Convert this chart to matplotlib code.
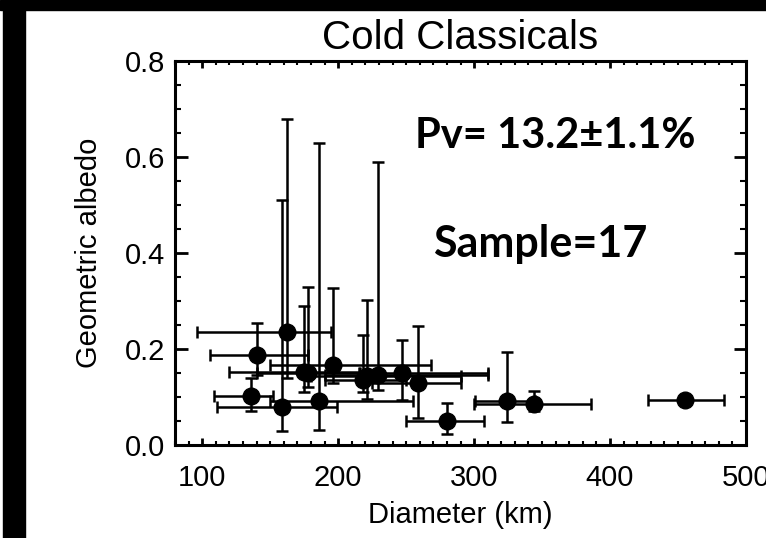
"""Cold classicals: geometric albedo vs diameter"""

import numpy as np
import matplotlib.pyplot as plt
from matplotlib.patches import Rectangle
from matplotlib.ticker import MultipleLocator

# values
diam = [162, 140, 136, 159, 186, 175, 178, 196, 221, 218, 229, 247, 259, 280, 324, 344, 455]
diam_lo = [96, 106, 109, 111, 150, 120, 140, 150, 180, 190, 190, 215, 225, 250, 301, 300, 428]
diam_hi = [195, 178, 152, 199, 255, 230, 216, 268, 290, 250, 310, 310, 290, 307, 345, 386, 484]
albedo = [0.235, 0.188, 0.103, 0.080, 0.091, 0.153, 0.150, 0.167, 0.143, 0.135, 0.146,
          0.150, 0.129, 0.051, 0.091, 0.085, 0.094]
alb_lo = [0.14, 0.145, 0.07, 0.03, 0.032, 0.11, 0.12, 0.13, 0.096, 0.11, 0.115,
          0.094, 0.056, 0.022, 0.047, 0.07, 0.085]
alb_hi = [0.68, 0.255, 0.14, 0.51, 0.63, 0.289, 0.33, 0.327, 0.303, 0.23, 0.59,
          0.219, 0.247, 0.087, 0.193, 0.112, 0.103]

title = "Cold Classicals"
xlabel = "Diameter (km)"
ylabel = "Geometric albedo"
note_pv = "Pv= 13.2\u00b11.1%"
note_n = "Sample=17"


def main():
    plt.rcParams['font.family'] = ['Liberation Sans', 'DejaVu Sans']
    fig = plt.figure(figsize=(7.66, 5.38), dpi=100)
    ax = fig.add_axes([0.2285, 0.1729, 0.7454, 0.7137])

    d = np.array(diam)
    a = np.array(albedo)
    xerr = [d - np.array(diam_lo), np.array(diam_hi) - d]
    yerr = [a - np.array(alb_lo), np.array(alb_hi) - a]
    ax.errorbar(d, a, xerr=xerr, yerr=yerr, fmt='o', color='black', ms=12,
                elinewidth=1.8, capsize=4, capthick=1.8)

    ax.set_xlim(80, 500)
    ax.set_ylim(0, 0.8)
    ax.xaxis.set_major_locator(MultipleLocator(100))
    ax.xaxis.set_minor_locator(MultipleLocator(10))
    ax.yaxis.set_major_locator(MultipleLocator(0.2))
    ax.yaxis.set_minor_locator(MultipleLocator(0.05))
    ax.xaxis.set_major_formatter(plt.FuncFormatter(lambda v, p: "%d" % v))
    ax.yaxis.set_major_formatter(plt.FuncFormatter(lambda v, p: "%.1f" % v))
    ax.tick_params(axis='x', which='major', direction='in', length=5, width=2,
                   top=True, labelsize=21, pad=14)
    ax.tick_params(axis='x', which='minor', direction='in', length=3, width=1.5, top=True)
    ax.tick_params(axis='y', which='major', direction='in', length=9, width=2,
                   right=True, labelsize=21, pad=7)
    ax.tick_params(axis='y', which='minor', direction='in', length=4.5, width=1.5, right=True)
    for sp in ax.spines.values():
        sp.set_linewidth(2.2)

    ax.set_title(title, fontsize=29, pad=9)
    ax.set_xlabel(xlabel, fontsize=21, labelpad=6)
    ax.set_ylabel(ylabel, fontsize=21, labelpad=16)

    ax.text(0.42, 0.773, note_pv, transform=ax.transAxes, fontsize=30,
            fontweight='bold', family=['Lato', 'DejaVu Sans'])
    ax.text(0.452, 0.49, note_n, transform=ax.transAxes, fontsize=31,
            fontweight='bold', family=['Lato', 'DejaVu Sans'])

    # black frame from the screenshot
    fig.patches.append(Rectangle((0, 1 - 10 / 538), 1, 10 / 538, transform=fig.transFigure,
                                 color='black', zorder=10))
    fig.patches.append(Rectangle((3 / 766, 0), 22 / 766, 1, transform=fig.transFigure,
                                 color='black', zorder=10))

    fig.savefig("out.png", dpi=100)


if __name__ == "__main__":
    main()
